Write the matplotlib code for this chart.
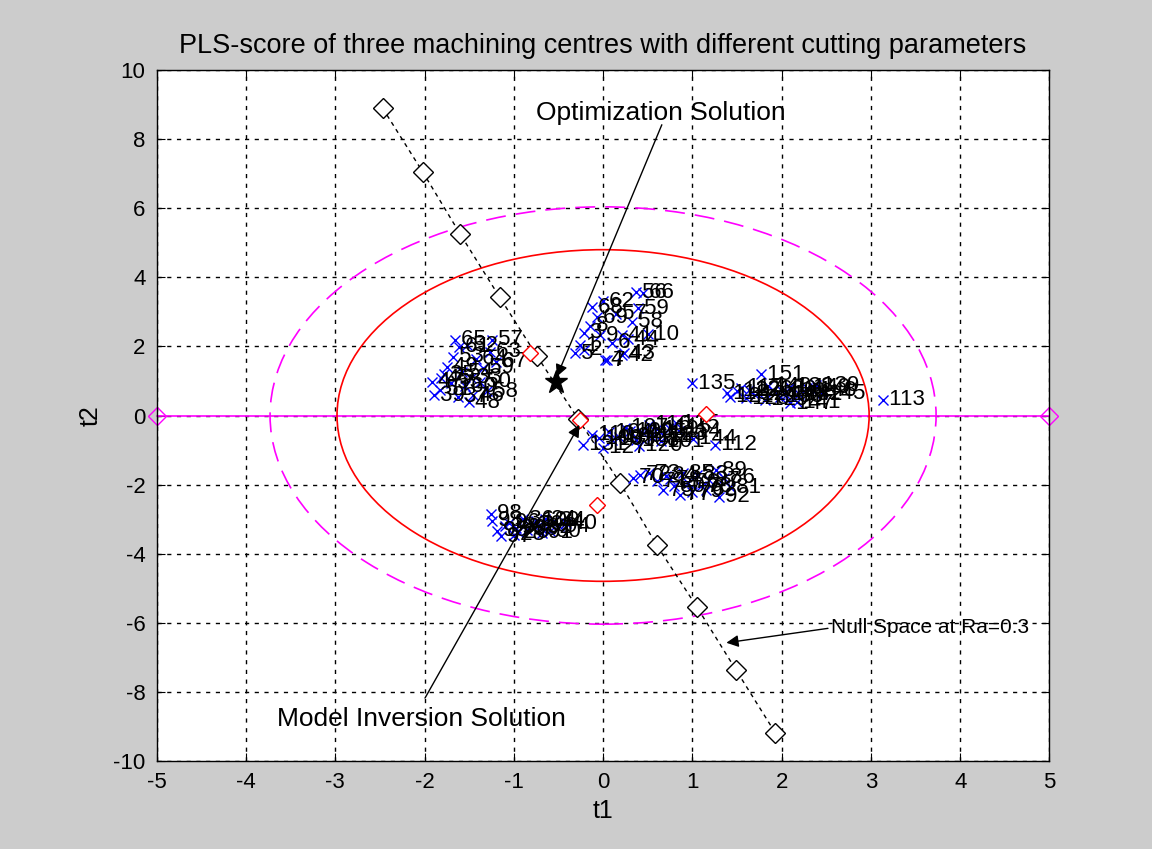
import numpy as np
import matplotlib
matplotlib.use('Agg')
import matplotlib.pyplot as plt
from matplotlib.patches import Ellipse

plt.rcParams['font.family'] = ['Liberation Sans', 'DejaVu Sans']
plt.rcParams['axes.unicode_minus'] = False

# score clusters (t1, t2) with sample numbers
a_x = [-1.66, -1.61, -1.68, -1.75, -1.81, -1.92, -1.89, -1.83, -1.24, -1.27, -1.35, -1.38,
       -1.46, -1.50, -1.52, -1.58, -1.55, -1.42, -1.30, -1.70, -1.62, -1.20, -1.78, -1.48]
a_y = [2.19, 1.99, 1.70, 1.41, 1.08, 0.97, 0.59, 0.74, 2.19, 1.84, 1.38, 0.97,
       0.59, 0.39, 2.04, 1.25, 0.85, 1.65, 0.70, 0.95, 0.55, 1.55, 1.20, 1.10]
a_lab = [65, 61, 53, 49, 45, 47, 39, 51, 57, 63, 59, 50,
         46, 48, 52, 54, 60, 64, 58, 55, 37, 67, 35, 33]

b_x = [-0.21, -0.26, -0.32, -0.12, -0.07, 0.04, 0.21, 0.37, 0.39, 0.24, -0.04, 0.32,
       0.45, 0.00, 0.21, 0.02, -0.21, 0.10, 0.28, 0.15, -0.15, 0.50]
b_y = [2.39, 2.04, 1.80, 3.14, 2.85, 1.60, 2.33, 3.57, 3.11, 1.80, 2.33, 2.71,
       3.55, 3.30, 1.75, 1.62, 1.90, 2.10, 2.20, 2.95, 2.60, 2.35]
b_lab = [3, 1, 5, 68, 69, 7, 41, 56, 59, 43, 9, 58,
         66, 62, 42, 4, 2, 6, 44, 57, 8, 10]

c_x = [1.00, 1.77, 1.39, 1.42, 1.64, 1.81, 1.98, 2.09, 2.17, 2.28, 2.39, 2.45,
       3.14, 2.09, 1.55, 1.70, 1.90, 2.00, 2.20, 1.50, 1.85, 2.35, 1.60, 2.05]
c_y = [0.94, 1.20, 0.65, 0.54, 0.74, 0.45, 0.54, 0.83, 0.39, 0.80, 0.88, 0.65,
       0.45, 0.36, 0.80, 0.60, 0.75, 0.70, 0.62, 0.72, 0.85, 0.72, 0.50, 0.60]
c_lab = [135, 151, 118, 121, 126, 129, 133, 138, 141, 149, 139, 145,
         113, 147, 117, 124, 130, 136, 142, 122, 140, 148, 128, 143]

d_x = [-0.23, -0.12, 0.00, 0.07, 0.18, 0.37, 0.52, 0.67, 0.74, 0.82, 1.01, 1.25,
       0.30, 0.45, 0.60, 0.10, 0.25, 0.55, -0.05, 0.40, 0.85, 0.65]
d_y = [-0.85, -0.56, -0.94, -0.48, -0.62, -0.71, -0.27, -0.56, -0.36, -0.22, -0.68, -0.85,
       -0.45, -0.50, -0.40, -0.70, -0.35, -0.62, -0.66, -0.88, -0.45, -0.75]
d_lab = [131, 110, 127, 104, 106, 108, 116, 123, 115, 125, 144, 112,
         102, 105, 119, 103, 107, 111, 109, 120, 114, 101]

e_x = [0.33, 0.41, 0.52, 0.67, 0.86, 1.00, 1.05, 0.89, 1.19, 1.27, 1.42, 1.30,
       0.75, 0.95, 1.10, 0.60, 0.80, 1.15, 0.70, 1.35]
e_y = [-1.80, -1.72, -1.67, -2.16, -2.30, -2.21, -1.72, -1.67, -1.87, -1.58, -2.07, -2.35,
       -1.85, -1.95, -2.05, -1.90, -2.05, -2.15, -1.75, -1.80]
e_lab = [70, 72, 73, 75, 77, 79, 83, 85, 87, 89, 81, 92,
         74, 76, 78, 71, 80, 82, 84, 86]

f_x = [-1.25, -1.24, -1.19, -1.14, -0.97, -0.75, -0.68, -0.49, -0.42, -1.05,
       -0.85, -0.60, -0.90, -1.10, -0.55, -0.80, -0.70, -1.00, -0.95, -0.65]
f_y = [-2.84, -3.05, -3.34, -3.49, -3.26, -3.05, -3.40, -3.20, -3.12, -3.10,
       -3.30, -3.35, -3.00, -3.20, -3.05, -3.15, -3.25, -3.45, -3.38, -3.00]
f_lab = [98, 93, 95, 97, 99, 100, 91, 94, 40, 96,
         88, 90, 36, 38, 34, 30, 32, 28, 26, 24]

# null space line at Ra=0.3
null_x = [-2.47, -2.02, -1.60, -1.16, -0.74, -0.28, 0.19, 0.60, 1.05, 1.49, 1.93]
null_y = [8.90, 7.05, 5.25, 3.43, 1.72, -0.10, -1.95, -3.75, -5.54, -7.37, -9.19]

# red diamonds
red_x = [-0.82, -0.26, 1.15, -0.07]
red_y = [1.81, -0.13, 0.05, -2.59]

# confidence ellipses (semi axes)
ell95 = (2.98, 4.80)
ell99 = (3.73, 6.04)

opt_pt = (-0.53, 0.97)

fig = plt.figure(figsize=(11.52, 8.49), dpi=100, facecolor='#cccccc')
ax = fig.add_axes([0.136, 0.1037, 0.775, 0.8138])
ax.set_facecolor('white')

ax.grid(True, color='black', linestyle=(0, (3, 4)), linewidth=1)
ax.set_axisbelow(True)

ax.plot([-5, 5], [0, 0], color='magenta', lw=1.2, marker='D', ms=9,
        mfc='none', mec='magenta', zorder=2, clip_on=False)
ax.add_patch(Ellipse((0, 0), 2 * ell95[0], 2 * ell95[1], fill=False,
                     ec='red', lw=1.2, zorder=2))
ax.add_patch(Ellipse((0, 0), 2 * ell99[0], 2 * ell99[1], fill=False,
                     ec='magenta', lw=1.2, ls=(0, (12, 6)), zorder=2))

ax.plot(null_x, null_y, color='black', lw=1, ls=(0, (3, 3)), marker='D', ms=10,
        mfc='white', mec='black', zorder=3)

for xs, ys, labs in [(a_x, a_y, a_lab), (b_x, b_y, b_lab), (c_x, c_y, c_lab),
                     (d_x, d_y, d_lab), (e_x, e_y, e_lab), (f_x, f_y, f_lab)]:
    ax.plot(xs, ys, 'x', color='blue', ms=7, mew=1, zorder=4)
    for x, y, l in zip(xs, ys, labs):
        ax.text(x, y, ' ' + str(l), fontsize=16, ha='left', va='center', zorder=5)

ax.plot(red_x, red_y, 'D', ms=8, mfc='white', mec='red', zorder=5)
ax.plot(*opt_pt, '*', color='black', ms=17, zorder=6)

ax.annotate('', xy=(-0.53, 1.05), xytext=(0.67, 8.49),
            arrowprops=dict(arrowstyle='-|>', color='black', lw=1, mutation_scale=18), zorder=7)
ax.text(0.65, 8.75, 'Optimization Solution', fontsize=19, ha='center', va='center', zorder=7)

ax.annotate('', xy=(-0.25, -0.2), xytext=(-2.01, -8.25),
            arrowprops=dict(arrowstyle='-|>', color='black', lw=1, mutation_scale=18), zorder=7)
ax.text(-2.03, -8.78, 'Model Inversion Solution', fontsize=19, ha='center', va='center', zorder=7)

ax.annotate('', xy=(1.35, -6.59), xytext=(2.55, -6.15),
            arrowprops=dict(arrowstyle='-|>', color='black', lw=1, mutation_scale=18), zorder=7)
ax.text(2.55, -6.15, 'Null Space at Ra=0.3', fontsize=15, ha='left', va='center', zorder=7)

ax.set_xlim(-5, 5)
ax.set_ylim(-10, 10)
ax.set_xticks(np.arange(-5, 6, 1))
ax.set_yticks(np.arange(-10, 11, 2))
ax.tick_params(direction='in', top=True, right=True, length=6, labelsize=16, pad=8)
for s in ax.spines.values():
    s.set_color('black')
    s.set_linewidth(1)

ax.set_xlabel('t1', fontsize=18, labelpad=4)
ax.set_ylabel('t2', fontsize=18, labelpad=8)
ax.set_title('PLS-score of three machining centres with different cutting parameters',
             fontsize=19.5, pad=12)

fig.savefig('out.png', dpi=100, facecolor=fig.get_facecolor())
